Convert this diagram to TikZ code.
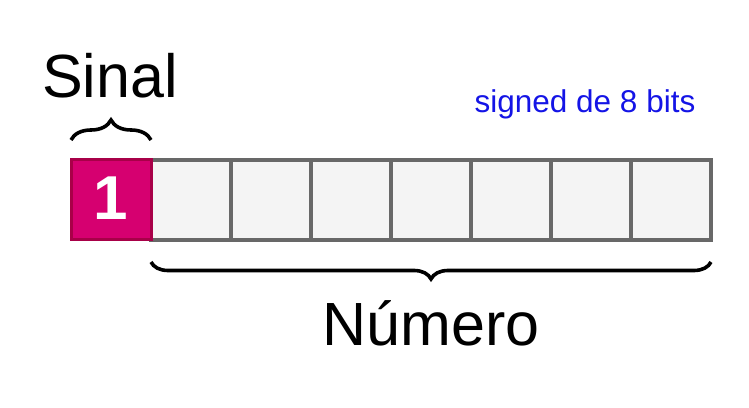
\documentclass[tikz,border=0pt]{standalone}
\usepackage{fontspec}
\setmainfont{Liberation Sans}
\usepackage{xcolor}
\usepackage{tikz}
\usetikzlibrary{decorations.pathreplacing}

\definecolor{cellgray}{RGB}{104,104,104}
\definecolor{cellfill}{RGB}{244,244,244}
\definecolor{signpink}{RGB}{214,0,112}
\definecolor{signedge}{RGB}{168,0,72}
\definecolor{noteblue}{RGB}{20,20,230}

\tikzset{
  cell/.style={draw=cellgray, fill=cellfill, line width=4pt, minimum width=80pt, minimum height=80pt, inner sep=0pt, outer sep=0pt},
  signcell/.style={cell, draw=signedge, fill=signpink, line width=3pt},
  bigbrace/.style={decorate, decoration={brace, amplitude=#1}, line width=3.6pt},
}

\begin{document}
\begin{tikzpicture}[x=1pt, y=1pt]
	\useasboundingbox (0,0) rectangle (749,407);
	\node[cell] (b1) at (191,207) {};
	\node[cell] (b2) at (271,207) {};
	\node[cell] (b3) at (351,207) {};
	\node[cell] (b4) at (431,207) {};
	\node[cell] (b5) at (511,207) {};
	\node[cell] (b6) at (591,207) {};
	\node[cell] (b7) at (671,207) {};
	\node[signcell] (b0) at (111,207) {};
	\node[anchor=base, text=white, font=\fontsize{62}{62}\selectfont\bfseries] (bit) at (111,187) {1};

	\draw[bigbrace=20pt] ([yshift=20pt]b0.north west) -- ([yshift=20pt]b0.north east);
	\node[anchor=base, font=\fontsize{61}{61}\selectfont] (sinal) at (110,309) {Sinal};

	\draw[bigbrace=17pt] ([yshift=-22pt]b7.south east) -- ([yshift=-22pt]b1.south west);
	\node[anchor=base, font=\fontsize{61}{61}\selectfont] (numero) at (431,62) {Número};

	\node[anchor=base, text=noteblue, font=\fontsize{31.5}{31.5}\selectfont] (note) at (585,294) {signed de 8 bits};
\end{tikzpicture}
\end{document}
